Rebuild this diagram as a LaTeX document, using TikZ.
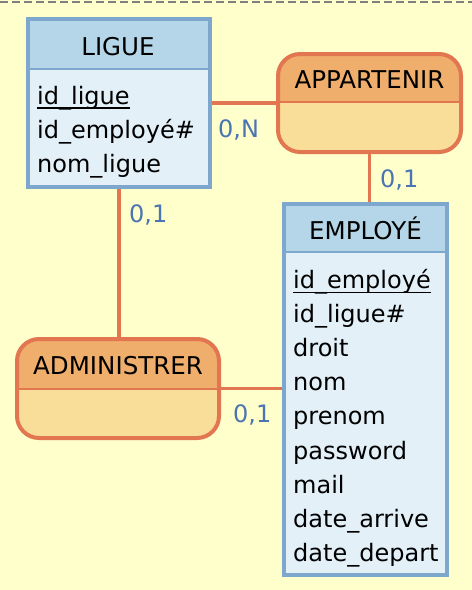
\documentclass[tikz,border=0pt]{standalone}
\usepackage{fontspec}
\setmainfont{DejaVu Sans}
\usetikzlibrary{calc}

\definecolor{bgyellow}{RGB}{255,255,204}
\definecolor{entline}{RGB}{126,167,205}
\definecolor{enthead}{RGB}{180,214,232}
\definecolor{entbody}{RGB}{227,240,248}
\definecolor{assoline}{RGB}{226,118,80}
\definecolor{assohead}{RGB}{240,174,108}
\definecolor{assobody}{RGB}{248,222,152}
\definecolor{cardblue}{RGB}{74,116,178}

\tikzset{
	entity/.style={rectangle, draw=entline, line width=4pt, fill=entbody, inner sep=0pt, anchor=north west,
		path picture={
			\fill[enthead] (path picture bounding box.north west) rectangle ([yshift=-#1]path picture bounding box.north east);
			\draw[entline, line width=2.5pt] ([yshift=-#1]path picture bounding box.north west) -- ([yshift=-#1]path picture bounding box.north east);
		}},
	asso/.style={rectangle, rounded corners=22pt, draw=assoline, line width=4pt, fill=assobody, inner sep=0pt, anchor=north west,
		path picture={
			\fill[assohead, sharp corners] (path picture bounding box.north west) rectangle ([yshift=-#1]path picture bounding box.north east);
			\draw[assoline, sharp corners, line width=2.5pt] ([yshift=-#1]path picture bounding box.north west) -- ([yshift=-#1]path picture bounding box.north east);
		}},
	title/.style={inner sep=0pt, anchor=base, font=\fontsize{24.5}{28}\selectfont},
	attr/.style={inner sep=0pt, anchor=base west},
	card/.style={inner sep=0pt, anchor=base west, text=cardblue},
	link/.style={draw=assoline, line width=3.5pt},
}

\begin{document}
\begin{tikzpicture}[x=1pt, y=-1pt, every node/.style={font=\fontsize{24}{28}\selectfont}]
		%%%%% START %%%%%
		\useasboundingbox (0,0) rectangle (472,590);
		\fill[bgyellow] (0,0) rectangle (472,590);
		\draw[gray, line width=2pt, dash pattern=on 8pt off 4pt] (0,2) -- (472,2);
		
		% entities
		\node[entity=50pt, minimum width=182pt, minimum height=168pt] (ligue) at (26,17) {};
		\node[title] (ligue-title) at (118,55) {LIGUE};
		\node[attr] (ligue-a1) at (37,104) {id\_ligue};
		\node[attr] (ligue-a2) at (37,138) {id\_employé\#};
		\node[attr] (ligue-a3) at (37,172) {nom\_ligue};
		\draw[line width=1.5pt] ([yshift=-4pt]ligue-a1.base west) -- ([yshift=-4pt]ligue-a1.base east);
		
		\node[entity=48pt, minimum width=163pt, minimum height=371pt] (employe) at (282,202) {};
		\node[title] (employe-title) at (365.5,239.5) {EMPLOYÉ};
		\node[attr] (employe-a1) at (293,288.5) {id\_employé};
		\node[attr] (employe-a2) at (293,322.6) {id\_ligue\#};
		\node[attr] (employe-a3) at (293,356.7) {droit};
		\node[attr] (employe-a4) at (293,390.8) {nom};
		\node[attr] (employe-a5) at (293,424.9) {prenom};
		\node[attr] (employe-a6) at (293,459) {password};
		\node[attr] (employe-a7) at (293,493.1) {mail};
		\node[attr] (employe-a8) at (293,527.2) {date\_arrive};
		\node[attr] (employe-a9) at (293,561.3) {date\_depart};
		\draw[line width=1.5pt] ([yshift=-4pt]employe-a1.base west) -- ([yshift=-4pt]employe-a1.base east);
		
		% associations
		\node[asso=48pt, minimum width=183pt, minimum height=98pt] (appartenir) at (276,52) {};
		\node[title] (appartenir-title) at (369.5,88.5) {APPARTENIR};
		
		\node[asso=50pt, minimum width=202pt, minimum height=99pt] (administrer) at (15,337) {};
		\node[title] (administrer-title) at (118,374.5) {ADMINISTRER};
		
		% links
		\draw[link] (ligue.east |- appartenir.west) -- (appartenir.west);
		\draw[link] (appartenir.south) -- (employe.north -| appartenir.south);
		\draw[link] (ligue.south) -- (administrer.north -| ligue.south);
		\draw[link] (administrer.east) -- (employe.west |- administrer.east);
		
		\node[card] (card-ligue-appartenir) at (218,137.5) {0,N};
		\node[card] (card-employe-appartenir) at (380,187) {0,1};
		\node[card] (card-ligue-administrer) at (129,222) {0,1};
		\node[card] (card-employe-administrer) at (233,422.5) {0,1};
		%%%%% END %%%%%
	\end{tikzpicture}
\end{document}
